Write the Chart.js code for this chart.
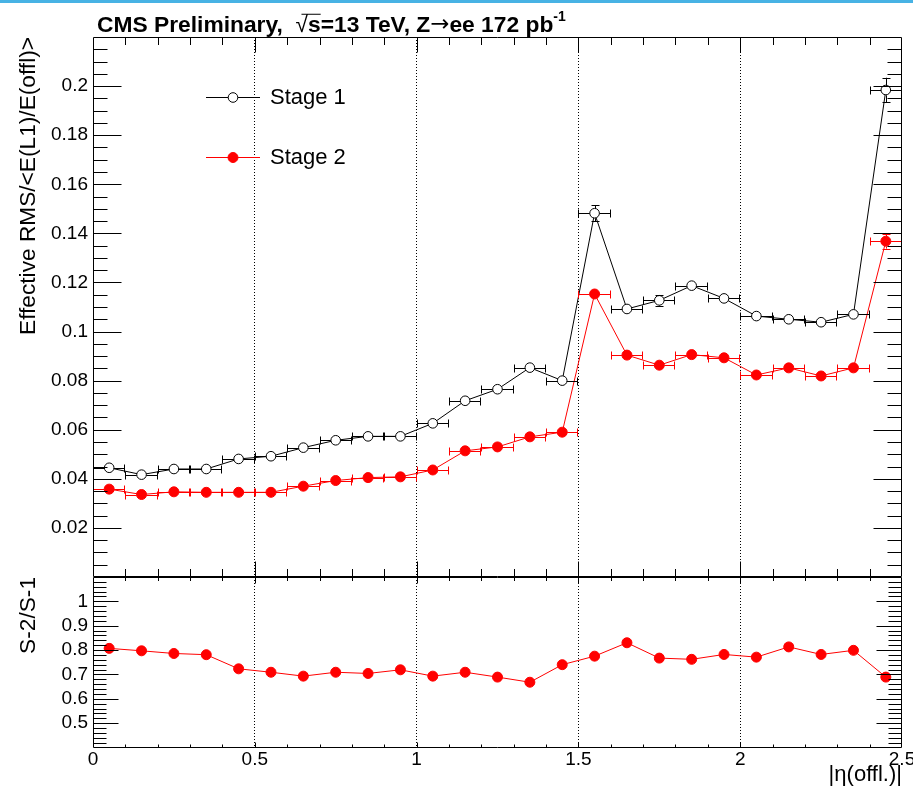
<!DOCTYPE html>
<html>
<head>
<meta charset="utf-8">
<script src="https://cdn.jsdelivr.net/npm/chart.js"></script>
<style>
  html, body { margin: 0; padding: 0; background: #fff; }
  #wrap { position: relative; width: 913px; height: 790px; overflow: hidden; background: #fff; }
  #wrap canvas { position: absolute; left: 0; top: 0; }
  #band { position: absolute; left: 0; top: 0; width: 913px; height: 3px; background: #47b2e4; }
</style>
</head>
<body>
<div id="wrap">
  <canvas id="rmsChart" width="913" height="790"></canvas>
  <canvas id="ratioChart" width="913" height="790"></canvas>
  <div id="band"></div>
</div>
<script>
// |eta| bin centres and half widths
const etaCenters = [0.05, 0.15, 0.25, 0.35, 0.45, 0.55, 0.65, 0.75, 0.85, 0.95,
                    1.05, 1.15, 1.25, 1.35, 1.45, 1.55, 1.65, 1.75, 1.85, 1.95,
                    2.05, 2.15, 2.25, 2.35, 2.45];
const etaHalfWidths = [0.05, 0.05, 0.05, 0.05, 0.05, 0.05, 0.05, 0.05, 0.05, 0.05,
                       0.05, 0.05, 0.05, 0.05, 0.05, 0.05, 0.05, 0.05, 0.05, 0.05,
                       0.05, 0.05, 0.05, 0.05, 0.05];

// Effective RMS / <E(L1)/E(offl)>
const stage1Rms = [0.0445, 0.0417, 0.0440, 0.0440, 0.0481, 0.0492, 0.0527, 0.0557, 0.0573, 0.0573,
                   0.0626, 0.0718, 0.0765, 0.0853, 0.0800, 0.1482, 0.1092, 0.1127, 0.1187, 0.1135,
                   0.1063, 0.1050, 0.1038, 0.1070, 0.1984];
const stage1Err = [0.0006, 0.0006, 0.0006, 0.0006, 0.0006, 0.0006, 0.0006, 0.0006, 0.0006, 0.0006,
                   0.0006, 0.0006, 0.0006, 0.0006, 0.0006, 0.0033, 0.0008, 0.0022, 0.0012, 0.0008,
                   0.0006, 0.0006, 0.0006, 0.0006, 0.0050];
const stage2Rms = [0.0358, 0.0336, 0.0347, 0.0345, 0.0345, 0.0345, 0.0370, 0.0393, 0.0405, 0.0408,
                   0.0436, 0.0514, 0.0530, 0.0571, 0.0590, 0.1153, 0.0904, 0.0863, 0.0906, 0.0893,
                   0.0823, 0.0852, 0.0819, 0.0852, 0.1368];
const stage2Err = [0.0005, 0.0005, 0.0005, 0.0005, 0.0005, 0.0005, 0.0005, 0.0005, 0.0005, 0.0005,
                   0.0005, 0.0005, 0.0005, 0.0005, 0.0005, 0.0012, 0.0006, 0.0006, 0.0006, 0.0006,
                   0.0005, 0.0005, 0.0005, 0.0005, 0.0030];

// Stage 2 / Stage 1
const stageRatio = [0.807, 0.797, 0.786, 0.781, 0.723, 0.709, 0.693, 0.709, 0.704, 0.719,
                    0.693, 0.709, 0.689, 0.668, 0.740, 0.775, 0.830, 0.767, 0.762, 0.782,
                    0.771, 0.813, 0.782, 0.799, 0.689];

// axis tick values and labels
const etaTickValues = [0, 0.5, 1, 1.5, 2, 2.5];
const etaTickLabels = ['0', '0.5', '1', '1.5', '2', '2.5'];
const rmsTickValues = [0.02, 0.04, 0.06, 0.08, 0.1, 0.12, 0.14, 0.16, 0.18, 0.2];
const rmsTickLabels = ['0.02', '0.04', '0.06', '0.08', '0.1', '0.12', '0.14', '0.16', '0.18', '0.2'];
const ratioTickValues = [0.5, 0.6, 0.7, 0.8, 0.9, 1.0];
const ratioTickLabels = ['0.5', '0.6', '0.7', '0.8', '0.9', '1'];

const FONT = "'Liberation Sans', Arial, Helvetica, sans-serif";
Chart.defaults.font.family = FONT;
Chart.defaults.color = '#000';

const toPoints = (ys) => etaCenters.map((x, i) => ({ x: x, y: ys[i] }));

// ROOT-like frame with inward major/minor ticks on all four sides
const rootFrame = {
  id: 'rootFrame',
  afterDraw(chart, args, o) {
    const { ctx, chartArea: a } = chart;
    const xs = chart.scales.x, ys = chart.scales.y;
    const L = Math.round(a.left) + 0.5, R = Math.round(a.right) - 0.5;
    const T = Math.round(a.top) + 0.5, B = Math.round(a.bottom) - 0.5;
    ctx.save();
    ctx.strokeStyle = '#000';
    ctx.lineWidth = 1;
    ctx.beginPath();
    ctx.rect(L, T, R - L, B - T);
    const isMajor = (v, step) => Math.abs(v / step - Math.round(v / step)) < 1e-6;
    const ny = Math.round((ys.max - ys.min) / o.yMinor);
    for (let i = 1; i < ny; i++) {
      const v = ys.min + i * o.yMinor;
      const len = isMajor(v, o.yMajor) ? o.yMajorLen : o.yMinorLen;
      const py = Math.round(ys.getPixelForValue(v)) + 0.5;
      ctx.moveTo(L, py); ctx.lineTo(L + len, py);
      ctx.moveTo(R, py); ctx.lineTo(R - len, py);
    }
    const nx = Math.round((xs.max - xs.min) / o.xMinor);
    for (let i = 1; i < nx; i++) {
      const v = xs.min + i * o.xMinor;
      const major = isMajor(v, o.xMajor);
      const px = Math.round(xs.getPixelForValue(v)) + 0.5;
      const lb = major ? o.xMajorLenBottom : o.xMinorLenBottom;
      const lt = major ? o.xMajorLenTop : o.xMinorLenTop;
      ctx.moveTo(px, B); ctx.lineTo(px, B - lb);
      ctx.moveTo(px, T); ctx.lineTo(px, T + lt);
    }
    ctx.stroke();
    ctx.restore();
  }
};

// horizontal (bin width) and vertical error bars with end caps
const errorBars = {
  id: 'errorBars',
  afterDatasetsDraw(chart) {
    const { ctx } = chart;
    const xs = chart.scales.x, ys = chart.scales.y;
    chart.data.datasets.forEach((ds) => {
      if (!ds.errX) return;
      const r = ds.pointRadius;
      ctx.save();
      ctx.strokeStyle = ds.borderColor;
      ctx.lineWidth = 1;
      ctx.beginPath();
      ds.data.forEach((p, i) => {
        const cx = xs.getPixelForValue(p.x);
        const cy = Math.round(ys.getPixelForValue(p.y)) + 0.5;
        const xl = Math.round(xs.getPixelForValue(p.x - ds.errX[i])) + 0.5;
        const xr = Math.round(xs.getPixelForValue(p.x + ds.errX[i])) - 0.5;
        ctx.moveTo(xl, cy); ctx.lineTo(cx - r, cy);
        ctx.moveTo(cx + r, cy); ctx.lineTo(xr, cy);
        ctx.moveTo(xl, cy - 4); ctx.lineTo(xl, cy + 4);
        ctx.moveTo(xr, cy - 4); ctx.lineTo(xr, cy + 4);
        const yt = ys.getPixelForValue(p.y + ds.errY[i]);
        const yb = ys.getPixelForValue(p.y - ds.errY[i]);
        const vx = Math.round(cx) + 0.5;
        if (cy - yt > r) {
          ctx.moveTo(vx, cy - r); ctx.lineTo(vx, yt);
          ctx.moveTo(vx - 4, Math.round(yt) + 0.5); ctx.lineTo(vx + 4, Math.round(yt) + 0.5);
          ctx.moveTo(vx, cy + r); ctx.lineTo(vx, yb);
          ctx.moveTo(vx - 4, Math.round(yb) + 0.5); ctx.lineTo(vx + 4, Math.round(yb) + 0.5);
        }
      });
      ctx.stroke();
      ctx.restore();
    });
  }
};

// in-frame legend with line + marker samples
const stageLegend = {
  id: 'stageLegend',
  afterDraw(chart, args, o) {
    const { ctx } = chart;
    ctx.save();
    chart.data.datasets.forEach((ds, i) => {
      const y = o.top + i * o.rowStep;
      ctx.strokeStyle = ds.borderColor;
      ctx.lineWidth = 1;
      ctx.beginPath();
      ctx.moveTo(o.lineStart, Math.round(y) + 0.5);
      ctx.lineTo(o.lineEnd, Math.round(y) + 0.5);
      ctx.stroke();
      ctx.beginPath();
      ctx.arc((o.lineStart + o.lineEnd) / 2, y + 0.5, ds.pointRadius, 0, Math.PI * 2);
      ctx.fillStyle = ds.pointBackgroundColor;
      ctx.fill();
      ctx.strokeStyle = ds.pointBorderColor;
      ctx.stroke();
      ctx.fillStyle = '#000';
      ctx.font = o.font;
      ctx.textBaseline = 'middle';
      ctx.textAlign = 'left';
      ctx.fillText(ds.label, o.textX, y + 1);
    });
    ctx.restore();
  }
};

// header line above the frame
const header = {
  id: 'header',
  afterDraw(chart, args, o) {
    const { ctx } = chart;
    ctx.save();
    ctx.fillStyle = '#000';
    ctx.strokeStyle = '#000';
    ctx.textBaseline = 'alphabetic';
    ctx.textAlign = 'left';
    let x = o.x;
    const y = o.y;
    const put = (t, font, dy) => {
      ctx.font = font;
      ctx.fillText(t, x, y + (dy || 0));
      const w = ctx.measureText(t).width;
      x += w;
      return w;
    };
    const bold = 'bold ' + o.size + 'px ' + o.family;
    put('CMS Preliminary,  ', bold);
    const rootStart = x;
    put('\u221A', o.size + 'px ' + FONT);
    put('s', bold);
    ctx.lineWidth = 1;
    ctx.beginPath();
    ctx.moveTo(rootStart + 6, y - o.size * 0.8 + 0.5);
    ctx.lineTo(x, y - o.size * 0.8 + 0.5);
    ctx.stroke();
    put('=13 TeV, Z', bold);
    put('\u2192', o.size + "px 'DejaVu Sans', " + FONT, -1);
    put('ee 172 pb', bold);
    put('-1', 'bold ' + Math.round(o.size * 0.6) + 'px ' + o.family, -o.size * 0.5);
    ctx.restore();
  }
};

const fixWidth = (w) => (scale) => { scale.width = w; scale.paddingTop = 0; scale.paddingBottom = 0; };
const fixHeight = (h) => (scale) => { scale.height = h; scale.paddingLeft = 0; scale.paddingRight = 0; };
const setTicks = (values) => (scale) => { scale.ticks = values.map((v) => ({ value: v })); };

const etaGrid = {
  drawTicks: false,
  lineWidth: 1,
  color: (c) => (c.tick && (c.tick.value === 0 || c.tick.value === 2.5)) ? 'rgba(0,0,0,0)' : '#000'
};

new Chart(document.getElementById('rmsChart'), {
  type: 'line',
  data: {
    datasets: [
      {
        label: 'Stage 1',
        data: toPoints(stage1Rms),
        errX: etaHalfWidths,
        errY: stage1Err,
        borderColor: '#000000',
        backgroundColor: '#ffffff',
        borderWidth: 1,
        pointRadius: 4.8,
        pointBorderWidth: 1,
        pointBackgroundColor: '#ffffff',
        pointBorderColor: '#000000',
        tension: 0
      },
      {
        label: 'Stage 2',
        data: toPoints(stage2Rms),
        errX: etaHalfWidths,
        errY: stage2Err,
        borderColor: '#ff0000',
        backgroundColor: '#ff0000',
        borderWidth: 1,
        pointRadius: 5,
        pointBorderWidth: 1,
        pointBackgroundColor: '#ff0000',
        pointBorderColor: '#ff0000',
        tension: 0
      }
    ]
  },
  options: {
    responsive: false,
    animation: false,
    devicePixelRatio: 1,
    layout: { padding: { left: 0, right: 11, top: 37, bottom: 0 } },
    plugins: {
      legend: { display: false },
      tooltip: { enabled: false },
      rootFrame: { yMinor: 0.005, yMajor: 0.02, yMajorLen: 28, yMinorLen: 14,
                   xMinor: 0.1, xMajor: 0.5, xMajorLenBottom: 15, xMinorLenBottom: 7.5,
                   xMajorLenTop: 15, xMinorLenTop: 7.5 },
      stageLegend: { top: 97, rowStep: 60, lineStart: 206, lineEnd: 260, textX: 270,
                     font: '22px ' + FONT },
      header: { x: 97, y: 32, size: 22.8, family: "'Liberation Sans Narrow', 'Liberation Sans', Arial, sans-serif" }
    },
    scales: {
      x: {
        type: 'linear', min: 0, max: 2.5,
        afterBuildTicks: setTicks(etaTickValues),
        afterFit: fixHeight(213),
        ticks: { display: false },
        grid: etaGrid,
        border: { display: false, dash: [1, 2] }
      },
      y: {
        type: 'linear', min: 0, max: 0.22,
        afterBuildTicks: setTicks(rmsTickValues),
        afterFit: fixWidth(93),
        ticks: {
          padding: 5,
          font: { size: 19 },
          callback: (v, i) => rmsTickLabels[i]
        },
        grid: { display: false, drawTicks: false },
        border: { display: false },
        title: {
          display: true, text: 'Effective RMS/<E(L1)/E(offl)>', align: 'end',
          font: { size: 22.7 }, padding: { top: 15, bottom: 0 }
        }
      }
    }
  },
  plugins: [errorBars, rootFrame, stageLegend, header]
});

new Chart(document.getElementById('ratioChart'), {
  type: 'line',
  data: {
    datasets: [
      {
        label: 'S-2/S-1',
        data: toPoints(stageRatio),
        borderColor: '#ff0000',
        backgroundColor: '#ff0000',
        borderWidth: 1,
        pointRadius: 5,
        pointBorderWidth: 1,
        pointBackgroundColor: '#ff0000',
        pointBorderColor: '#ff0000',
        tension: 0
      }
    ]
  },
  options: {
    responsive: false,
    animation: false,
    devicePixelRatio: 1,
    layout: { padding: { left: 0, right: 11, top: 577, bottom: 0 } },
    plugins: {
      legend: { display: false },
      tooltip: { enabled: false },
      rootFrame: { yMinor: 0.02, yMajor: 0.1, yMajorLen: 25, yMinorLen: 13,
                   xMinor: 0.1, xMajor: 0.5, xMajorLenBottom: 5, xMinorLenBottom: 3,
                   xMajorLenTop: 6, xMinorLenTop: 3.5 }
    },
    scales: {
      x: {
        type: 'linear', min: 0, max: 2.5,
        afterBuildTicks: setTicks(etaTickValues),
        afterFit: fixHeight(42.5),
        ticks: {
          padding: 1,
          maxRotation: 0,
          font: { size: 19 },
          callback: (v, i) => etaTickLabels[i]
        },
        grid: etaGrid,
        border: { display: false, dash: [1, 2] },
        title: {
          display: true, text: '|\u03B7(offl.)|', align: 'end',
          font: { size: 22 }, padding: { top: 0, bottom: 2 }
        }
      },
      y: {
        type: 'linear', min: 0.4, max: 1.1,
        afterBuildTicks: setTicks(ratioTickValues),
        afterFit: fixWidth(93),
        ticks: {
          padding: 5,
          font: { size: 19 },
          callback: (v, i) => ratioTickLabels[i]
        },
        grid: { display: false, drawTicks: false },
        border: { display: false },
        title: {
          display: true, text: 'S-2/S-1', align: 'end',
          font: { size: 22.7 }, padding: { top: 15, bottom: 0 }
        }
      }
    }
  },
  plugins: [rootFrame]
});
</script>
</body>
</html>
